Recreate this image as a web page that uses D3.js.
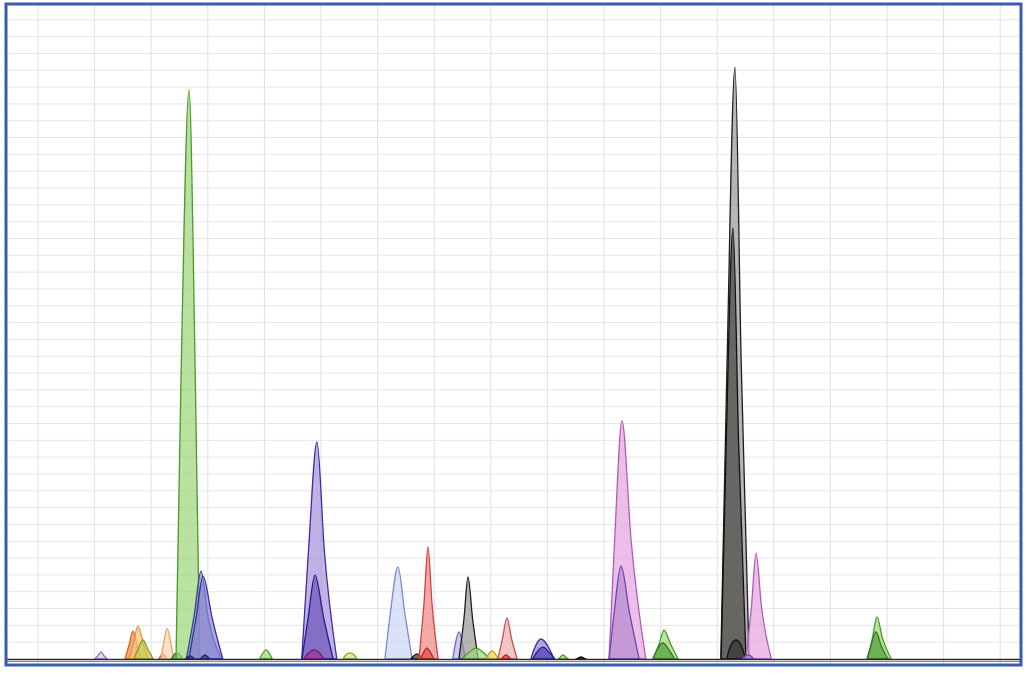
<!DOCTYPE html>
<html>
<head>
<meta charset="utf-8">
<script src="https://cdn.jsdelivr.net/npm/d3@7"></script>
<style>
  html, body { margin: 0; padding: 0; background: #fff; }
  svg { display: block; }
</style>
</head>
<body>
<div id="chart"></div>
<script>
// Peak table (x in grid units, height in RFU, widths in grid units)
const peakDyes    = ["lavender","orangeRed","orange","olive","red","peach","darkGreen","green","slate","indigo","navy","navy","green","violet","darkViolet","magenta","lime","skyBlue","black","red","crimson","periwinkle","gray","green","yellow","rose","crimson","indigo","darkIndigo","green","black","orchid","plum","green","darkGreen","gray","charcoal","black","orchid","plum","green","darkGreen"];
const peakCenters = [1.113,1.678,1.767,1.855,2.208,2.279,2.456,2.668,2.880,2.915,2.686,2.951,4.028,4.929,4.894,4.876,5.512,6.360,6.696,6.890,6.873,7.438,7.597,7.739,8.021,8.286,8.269,8.887,8.922,9.276,9.594,10.318,10.300,11.060,11.042,12.314,12.279,12.332,12.686,12.544,14.823,14.806];
const peakHeights = [42,166,196,113,30,184,36,3383,523,493,18,24,54,1290,499,54,36,547,30,666,65,161,488,65,48,244,24,119,71,24,12,1415,553,172,95,3519,2562,113,630,24,250,161];
const halfLeft    = [0.05,0.07,0.08,0.09,0.045,0.06,0.07,0.14,0.12,0.12,0.05,0.05,0.07,0.15,0.12,0.12,0.09,0.135,0.07,0.07,0.07,0.07,0.07,0.15,0.07,0.08,0.05,0.12,0.12,0.045,0.05,0.13,0.12,0.09,0.12,0.14,0.12,0.12,0.08,0.07,0.08,0.09];
const halfRight   = [0.05,0.07,0.09,0.09,0.045,0.07,0.07,0.11,0.12,0.16,0.05,0.05,0.07,0.13,0.15,0.12,0.09,0.12,0.07,0.07,0.07,0.07,0.08,0.15,0.07,0.08,0.05,0.15,0.12,0.045,0.05,0.16,0.15,0.12,0.12,0.11,0.10,0.12,0.095,0.07,0.095,0.09];
const baseLeft    = [0.11,0.14,0.16,0.16,0.07,0.11,0.10,0.23,0.26,0.25,0.08,0.08,0.11,0.27,0.23,0.18,0.12,0.23,0.11,0.16,0.12,0.11,0.16,0.25,0.11,0.16,0.08,0.18,0.18,0.09,0.09,0.23,0.21,0.18,0.18,0.25,0.21,0.16,0.18,0.10,0.16,0.16];
const baseRight   = [0.11,0.14,0.18,0.18,0.07,0.12,0.10,0.19,0.36,0.35,0.08,0.08,0.11,0.35,0.32,0.18,0.12,0.25,0.11,0.18,0.12,0.11,0.18,0.25,0.11,0.18,0.08,0.23,0.21,0.09,0.09,0.42,0.32,0.25,0.21,0.25,0.23,0.16,0.27,0.10,0.25,0.21];

// grid
const xTicks = d3.range(0, 18);
const yTicks = d3.range(100, 3900, 100);

const dyeFill = {
  lavender: "#d6c8f0", orangeRed: "#ef8a4a", orange: "#f7c37a", olive: "#c9c64e",
  red: "#ef8585", peach: "#f9d6b0", darkGreen: "#4f9e34", green: "#9bd477",
  slate: "#8090c2", indigo: "#8c84d4", navy: "#3a3890", violet: "#a592da",
  darkViolet: "#6c52ba", magenta: "#a33096", lime: "#d9e27a", skyBlue: "#cad6f4",
  black: "#333", crimson: "#e04848", periwinkle: "#b9b2ea", gray: "#9a9696",
  yellow: "#f2d346", rose: "#ebacab", darkIndigo: "#4d3cb0", orchid: "#e6a2de",
  plum: "#b488cf", charcoal: "#45443f"
};
const dyeStroke = {
  lavender: "#9478c4", orangeRed: "#d0621f", orange: "#e39530", olive: "#8a9a22",
  red: "#d64040", peach: "#e2a462", darkGreen: "#2f7a1c", green: "#4a9a2c",
  slate: "#33478e", indigo: "#3a2f9c", navy: "#22226a", violet: "#3c2ea2",
  darkViolet: "#2a1a8c", magenta: "#7a1870", lime: "#7fb030", skyBlue: "#7a8ad0",
  black: "#111", crimson: "#b82424", periwinkle: "#6a68c8", gray: "#1e1e1e",
  yellow: "#c2a018", rose: "#c25252", darkIndigo: "#28208a", orchid: "#b25ab8",
  plum: "#6a48b0", charcoal: "#111"
};

const width = 1033, height = 677;
const plot = { left: 6, right: 1021, top: 4, bottom: 665 };

const x = d3.scaleLinear().domain([0, 17]).range([38, 38 + 56.6 * 17]);
const y = d3.scaleLinear().domain([0, 3900]).range([659, 3]);

const svg = d3.select("#chart").append("svg")
  .attr("width", width).attr("height", height)
  .attr("viewBox", [0, 0, width, height]);

svg.append("rect").attr("width", width).attr("height", height).attr("fill", "#fff");

svg.append("defs").append("clipPath").attr("id", "clip")
  .append("rect")
  .attr("x", plot.left).attr("y", plot.top)
  .attr("width", plot.right - plot.left).attr("height", plot.bottom - plot.top);

const g = svg.append("g").attr("clip-path", "url(#clip)");

// grid lines
g.append("g").selectAll("line")
  .data(xTicks)
  .join("line")
    .attr("x1", d => x(d)).attr("x2", d => x(d))
    .attr("y1", plot.top).attr("y2", plot.bottom)
    .attr("stroke", "#e0e0e4").attr("stroke-width", 1);

g.append("g").selectAll("line")
  .data(yTicks)
  .join("line")
    .attr("x1", plot.left).attr("x2", plot.right)
    .attr("y1", d => y(d)).attr("y2", d => y(d))
    .attr("stroke", "#e6e6e9").attr("stroke-width", 1);

// peaks
const peaks = peakCenters.map((c, i) => ({
  dye: peakDyes[i],
  pts: [
    [c - baseLeft[i], 0],
    [c - halfLeft[i], peakHeights[i] / 2],
    [c, peakHeights[i]],
    [c + halfRight[i], peakHeights[i] / 2],
    [c + baseRight[i], 0]
  ]
}));

const area = d3.area()
  .curve(d3.curveMonotoneX)
  .x(d => x(d[0]))
  .y0(y(0))
  .y1(d => y(d[1]));

g.append("g").selectAll("path")
  .data(peaks)
  .join("path")
    .attr("d", d => area(d.pts))
    .attr("fill", d => dyeFill[d.dye])
    .attr("fill-opacity", 0.7)
    .attr("stroke", d => dyeStroke[d.dye])
    .attr("stroke-width", 1.3)
    .attr("stroke-linejoin", "round");

// baseline
g.append("line")
  .attr("x1", plot.left).attr("x2", plot.right)
  .attr("y1", y(0) + 0.5).attr("y2", y(0) + 0.5)
  .attr("stroke", "#2a2a2a").attr("stroke-width", 1.6);
g.append("line")
  .attr("x1", plot.left).attr("x2", plot.right)
  .attr("y1", y(0) + 2.5).attr("y2", y(0) + 2.5)
  .attr("stroke", "#8a8a8a").attr("stroke-width", 1);

// frame
svg.append("rect")
  .attr("x", plot.left).attr("y", plot.top)
  .attr("width", plot.right - plot.left).attr("height", plot.bottom - plot.top)
  .attr("fill", "none").attr("stroke", "#3a5bb0").attr("stroke-width", 3);
</script>
</body>
</html>
